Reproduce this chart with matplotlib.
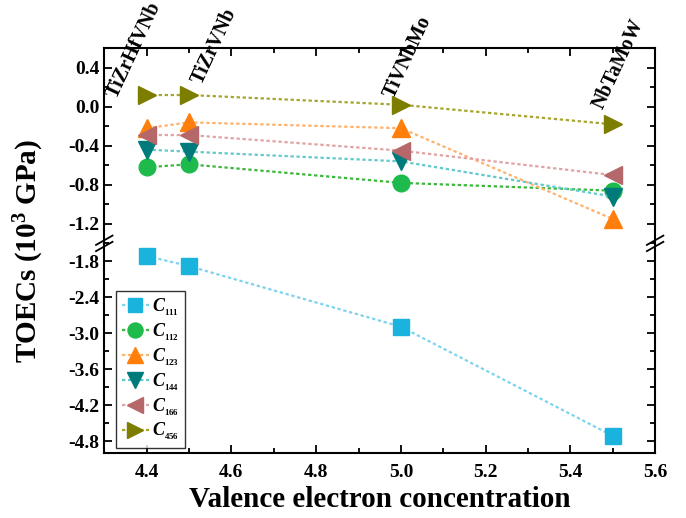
import matplotlib
matplotlib.use('Agg')
import matplotlib.pyplot as plt
from matplotlib.lines import Line2D
from matplotlib.ticker import MultipleLocator

# valence electron concentration of each alloy
vec = [4.4, 4.5, 5.0, 5.5]
alloys = ['TiZrHfVNb', 'TiZrVNb', 'TiVNbMo', 'NbTaMoW']

# TOECs in 10^3 GPa
c111 = [-1.71, -1.88, -2.89, -4.71]
c112 = [-0.62, -0.59, -0.78, -0.86]
c123 = [-0.22, -0.16, -0.22, -1.15]
c144 = [-0.44, -0.46, -0.56, -0.92]
c166 = [-0.29, -0.29, -0.45, -0.70]
c456 = [0.12, 0.12, 0.02, -0.18]

series = [
    ('$C_{_{111}}$', c111, 's', '#19b3dd', '#7fd3ee'),
    ('$C_{_{112}}$', c112, 'o', '#1fba4c', '#3db83d'),
    ('$C_{_{123}}$', c123, '^', '#ff7f0a', '#ffb26e'),
    ('$C_{_{144}}$', c144, 'v', '#007b7b', '#62c9cc'),
    ('$C_{_{166}}$', c166, '<', '#b56769', '#e2a3a3'),
    ('$C_{_{456}}$', c456, '>', '#7d7d00', '#a6a62e'),
]
msize = {'s': 11, 'o': 12, '^': 13, 'v': 13, '<': 13, '>': 13}

plt.rcParams['font.family'] = 'Liberation Serif'
plt.rcParams['font.weight'] = 'bold'
plt.rcParams['mathtext.fontset'] = 'custom'
plt.rcParams['mathtext.it'] = 'Liberation Serif:italic:bold'
plt.rcParams['mathtext.rm'] = 'Liberation Serif:bold'

fig, (ax1, ax2) = plt.subplots(2, 1, figsize=(6.86, 5.18), dpi=100, sharex=True,
                               gridspec_kw={'height_ratios': [0.93, 1.0]})
fig.subplots_adjust(left=0.152, right=0.955, top=0.907, bottom=0.125, hspace=0.0)

for lab, vals, mk, fc, lc in series:
    for ax in (ax1, ax2):
        ax.plot(vec, vals, linestyle=(0, (1.5, 1.2)), color=lc, lw=1.6,
                marker=mk, markersize=msize[mk], markerfacecolor=fc,
                markeredgecolor=fc, label=lab)

ax1.set_ylim(-1.4, 0.6)
ax2.set_ylim(-5.0, -1.5)
ax2.set_xlim(4.3, 5.6)

ax1.yaxis.set_major_locator(MultipleLocator(0.4))
ax1.yaxis.set_minor_locator(MultipleLocator(0.2))
ax2.yaxis.set_major_locator(MultipleLocator(0.6))
ax2.yaxis.set_minor_locator(MultipleLocator(0.3))
ax2.xaxis.set_major_locator(MultipleLocator(0.2))
ax2.xaxis.set_minor_locator(MultipleLocator(0.1))

ax1.yaxis.set_major_formatter(matplotlib.ticker.FormatStrFormatter('%.1f'))
ax2.yaxis.set_major_formatter(matplotlib.ticker.FormatStrFormatter('%.1f'))
ax2.xaxis.set_major_formatter(matplotlib.ticker.FormatStrFormatter('%.1f'))

for ax in (ax1, ax2):
    for s in ax.spines.values():
        s.set_linewidth(1.5)
    ax.tick_params(which='both', direction='in', left=True, right=True,
                   labelsize=14, width=1.3)
    ax.tick_params(which='major', length=6)
    ax.tick_params(which='minor', length=3.5)

ax1.spines['bottom'].set_visible(False)
ax2.spines['top'].set_visible(False)
ax1.tick_params(which='both', axis='x', top=True, bottom=False, labelbottom=False)
ax2.tick_params(which='both', axis='x', top=False, bottom=True, pad=8)

# alloy names above the points
name_y = [0.08, 0.22, 0.08, -0.03]
name_dx = [-0.07, 0.03, -0.018, -0.024]
for x, dx, y, name in zip(vec, name_dx, name_y, alloys):
    ax1.text(x + dx, y, name, rotation=65, rotation_mode='anchor',
             ha='left', va='baseline', fontsize=14.5, fontweight='bold',
             clip_on=False)

# break marks on both spines
yb = ax2.get_position().y1
for xb in (ax1.get_position().x0, ax1.get_position().x1):
    for off in (-0.006, 0.006):
        fig.add_artist(Line2D([xb - 0.012, xb + 0.012],
                              [yb + off - 0.009, yb + off + 0.009],
                              color='black', lw=1.3))

leg = ax2.legend(loc='lower left', bbox_to_anchor=(0.012, 0.0), fontsize=13,
                 frameon=True, fancybox=False, edgecolor='black',
                 handlelength=1.5, handletextpad=0.2, labelspacing=0.18,
                 borderpad=0.3, borderaxespad=0.3, markerscale=0.9)
leg.get_frame().set_linewidth(1.0)

fig.text(0.042, 0.516, 'TOECs (10$^3$ GPa)', rotation=90, ha='center',
         va='center', fontsize=21, fontweight='bold')
ax2.set_xlabel('Valence electron concentration', fontsize=21,
               fontweight='bold', labelpad=3)

fig.savefig('out.png', dpi=100)
